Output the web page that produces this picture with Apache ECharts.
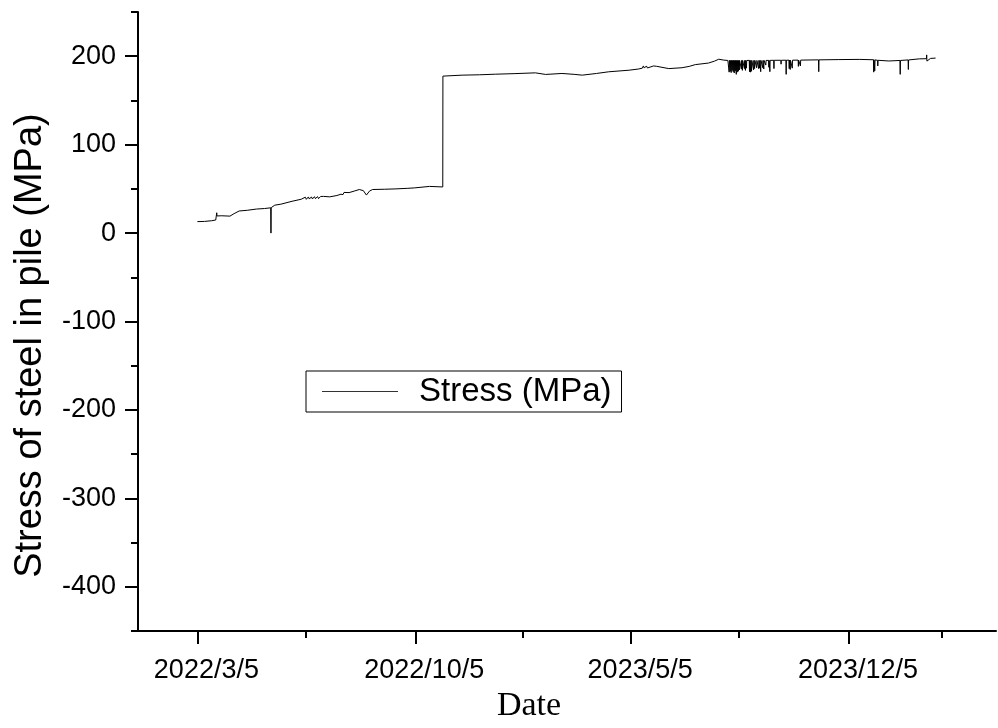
<!DOCTYPE html>
<html>
<head>
<meta charset="utf-8">
<script src="https://cdn.jsdelivr.net/npm/echarts@6.0.0/dist/echarts.min.js"></script>
<style>
  html, body { margin: 0; padding: 0; background: #fff; }
  #chart { width: 998px; height: 728px; }
</style>
</head>
<body>
<div id="chart"></div>
<script>
// Stress readings, before the jump (2022/3 - 2022/11)
const stage1 = [
  ['2022-03-05', 13.0], ['2022-03-12', 13.2], ['2022-03-19', 14.0], ['2022-03-23', 14.8],
  ['2022-03-24', 23.0], ['2022-03-24 06:00', 19.4], ['2022-03-29', 19.6], ['2022-04-06', 19.2],
  ['2022-04-10', 22.0], ['2022-04-15', 25.0], ['2022-04-23', 25.8], ['2022-05-02', 27.2],
  ['2022-05-10', 27.8], ['2022-05-16', 28.6], ['2022-05-16 06:00', 0.0], ['2022-05-16 12:00', 28.8],
  ['2022-05-20', 31.6], ['2022-05-26', 32.7], ['2022-06-06', 36.0], ['2022-06-15', 38.3],
  ['2022-06-19', 40.6], ['2022-06-20', 38.2], ['2022-06-22', 40.9], ['2022-06-23', 38.5],
  ['2022-06-25', 41.0], ['2022-06-26', 38.6], ['2022-06-28', 41.2], ['2022-06-29', 38.9],
  ['2022-07-01', 41.3], ['2022-07-02', 39.0], ['2022-07-04', 41.4], ['2022-07-05', 39.2],
  ['2022-07-07', 41.5], ['2022-07-08', 39.5], ['2022-07-13', 41.0], ['2022-07-20', 42.5],
  ['2022-07-24', 44.0], ['2022-07-25', 46.0], ['2022-07-26', 43.5], ['2022-07-27', 46.0],
  ['2022-07-28', 44.5], ['2022-08-01', 45.8], ['2022-08-06', 47.5], ['2022-08-11', 49.3],
  ['2022-08-15', 48.0], ['2022-08-18', 43.0], ['2022-08-21', 47.5], ['2022-08-24', 49.3],
  ['2022-09-05', 49.6], ['2022-09-16', 50.0], ['2022-09-27', 50.6], ['2022-10-04', 51.1],
  ['2022-10-05', 53.0], ['2022-10-19', 52.8], ['2022-11-01', 52.2]
];

// After the jump, slow rise (2022/11 - 2023/8)
const stage2 = [
  ['2022-11-01 03:00', 177.5], ['2022-11-20', 178.6], ['2022-12-07', 179.0], ['2022-12-23', 179.7],
  ['2023-01-10', 180.3], ['2023-01-31', 181.2], ['2023-02-10', 179.4], ['2023-02-26', 180.5],
  ['2023-03-10', 179.5], ['2023-03-18', 178.6], ['2023-04-01', 180.5], ['2023-04-13', 182.4],
  ['2023-05-03', 184.2], ['2023-05-12', 185.5], ['2023-05-16', 186.5], ['2023-05-17', 189.0],
  ['2023-05-18', 186.6], ['2023-05-20', 189.0], ['2023-05-21', 186.7], ['2023-05-27', 189.0],
  ['2023-05-28', 186.8], ['2023-05-30', 188.6], ['2023-05-31', 186.6], ['2023-06-11', 186.0],
  ['2023-06-24', 187.0], ['2023-07-01', 188.5], ['2023-07-07', 190.5], ['2023-07-20', 192.3],
  ['2023-07-26', 194.5], ['2023-07-30', 196.6], ['2023-08-04', 195.6]
];

// Plateau with dropouts (2023/8 - 2024/2): base, dip, base
const stage3 = [
  ['2023-08-08', 195.2],
  ['2023-08-09', 195.3], ['2023-08-09 06:00', 182.0], ['2023-08-09 12:00', 195.3],
  ['2023-08-10', 195.2], ['2023-08-10 06:00', 183.0], ['2023-08-10 12:00', 195.2],
  ['2023-08-11', 195.3], ['2023-08-11 06:00', 181.5], ['2023-08-11 12:00', 195.3],
  ['2023-08-12', 195.2], ['2023-08-12 06:00', 184.0], ['2023-08-12 12:00', 195.2],
  ['2023-08-13', 195.3], ['2023-08-13 06:00', 182.5], ['2023-08-13 12:00', 195.3],
  ['2023-08-14', 195.2], ['2023-08-14 06:00', 181.0], ['2023-08-14 12:00', 195.2],
  ['2023-08-15', 195.3], ['2023-08-15 06:00', 183.5], ['2023-08-15 12:00', 195.3],
  ['2023-08-16', 195.2], ['2023-08-16 06:00', 179.5], ['2023-08-16 12:00', 195.2],
  ['2023-08-17', 195.3], ['2023-08-17 06:00', 182.0], ['2023-08-17 12:00', 195.3],
  ['2023-08-18', 195.2], ['2023-08-18 06:00', 183.0], ['2023-08-18 12:00', 195.2],
  ['2023-08-19', 195.3], ['2023-08-19 06:00', 184.5], ['2023-08-19 12:00', 195.3],
  ['2023-08-21', 195.2], ['2023-08-21 06:00', 185.5], ['2023-08-21 12:00', 195.2],
  ['2023-08-22', 195.3], ['2023-08-22 06:00', 184.0], ['2023-08-22 12:00', 195.3],
  ['2023-08-24', 195.2], ['2023-08-24 06:00', 186.0], ['2023-08-24 12:00', 195.2],
  ['2023-08-25', 195.3], ['2023-08-25 06:00', 184.0], ['2023-08-25 12:00', 195.3],
  ['2023-08-26', 195.2], ['2023-08-26 06:00', 186.5], ['2023-08-26 12:00', 195.2],
  ['2023-08-29', 195.3], ['2023-08-29 06:00', 182.5], ['2023-08-29 12:00', 195.3],
  ['2023-08-30', 195.2], ['2023-08-30 06:00', 182.0], ['2023-08-30 12:00', 195.2],
  ['2023-08-31', 195.3], ['2023-08-31 06:00', 183.0], ['2023-08-31 12:00', 195.3],
  ['2023-09-02', 195.2], ['2023-09-02 06:00', 184.5], ['2023-09-02 12:00', 195.2],
  ['2023-09-03', 195.3], ['2023-09-03 06:00', 186.0], ['2023-09-03 12:00', 195.3],
  ['2023-09-05', 195.2], ['2023-09-05 06:00', 187.0], ['2023-09-05 12:00', 195.2],
  ['2023-09-07', 195.3], ['2023-09-07 06:00', 186.0], ['2023-09-07 12:00', 195.3],
  ['2023-09-08', 195.2], ['2023-09-08 06:00', 186.5], ['2023-09-08 12:00', 195.2],
  ['2023-09-09', 195.3], ['2023-09-09 06:00', 182.5], ['2023-09-09 12:00', 195.3],
  ['2023-09-11', 195.2], ['2023-09-11 06:00', 187.0], ['2023-09-11 12:00', 195.2],
  ['2023-09-12', 195.3], ['2023-09-12 06:00', 185.5], ['2023-09-12 12:00', 195.3],
  ['2023-09-14', 195.2], ['2023-09-14 06:00', 190.0], ['2023-09-14 12:00', 195.2],
  ['2023-09-17', 195.3], ['2023-09-17 06:00', 187.5], ['2023-09-17 12:00', 195.3],
  ['2023-09-18', 195.3], ['2023-09-18 06:00', 182.5], ['2023-09-18 12:00', 195.3],
  ['2023-09-22', 195.4], ['2023-09-22 06:00', 186.0], ['2023-09-22 12:00', 195.4],
  ['2023-09-29', 195.4], ['2023-09-29 06:00', 191.0], ['2023-09-29 12:00', 195.4],
  ['2023-10-04', 195.5], ['2023-10-04 06:00', 179.5], ['2023-10-04 12:00', 195.5],
  ['2023-10-07', 195.5], ['2023-10-07 06:00', 186.0], ['2023-10-07 12:00', 195.5],
  ['2023-10-08', 195.5], ['2023-10-08 06:00', 185.0], ['2023-10-08 12:00', 195.5],
  ['2023-10-10', 195.5], ['2023-10-10 06:00', 186.5], ['2023-10-10 12:00', 195.5],
  ['2023-10-16', 195.6], ['2023-10-16 06:00', 188.5], ['2023-10-16 12:00', 195.6],
  ['2023-10-18', 195.6], ['2023-10-18 06:00', 189.0], ['2023-10-18 12:00', 195.6],
  ['2023-11-05', 195.9], ['2023-11-05 06:00', 182.5], ['2023-11-05 12:00', 195.9],
  ['2023-11-25', 196.2], ['2023-12-15', 196.4],
  ['2023-12-29', 196.0], ['2023-12-29 06:00', 182.0], ['2023-12-29 12:00', 196.0],
  ['2023-12-30', 195.8], ['2023-12-30 06:00', 183.5], ['2023-12-30 12:00', 195.8],
  ['2024-01-02', 195.4], ['2024-01-02 06:00', 189.0], ['2024-01-02 12:00', 195.4],
  ['2024-01-13', 194.6],
  ['2024-01-24', 195.2], ['2024-01-24 06:00', 179.5], ['2024-01-24 12:00', 195.2],
  ['2024-02-01', 195.8], ['2024-02-01 06:00', 185.0], ['2024-02-01 12:00', 195.8],
  ['2024-02-12', 197.0], ['2024-02-19', 197.2], ['2024-02-19 06:00', 201.5], ['2024-02-19 12:00', 194.5],
  ['2024-02-23', 197.5], ['2024-02-28', 197.9]
];

// Axis ticks
const majorDates = ['2022-03-05', '2022-10-05', '2023-05-05', '2023-12-05'];
const dateLabels = ['2022/3/5', '2022/10/5', '2023/5/5', '2023/12/5'];
const minorDates = ['2022-06-19', '2023-01-19', '2023-08-19', '2024-03-05'];
const yMajor = [-400, -300, -200, -100, 0, 100, 200];
const yMinor = [-450, -350, -250, -150, -50, 50, 150, 250];

// x is counted in days from the first reading
const origin = echarts.number.parseDate('2022-03-05').getTime();
const toDay = s => (echarts.number.parseDate(s).getTime() - origin) / 86400000;
const majorDays = majorDates.map(toDay);
const minorDays = minorDates.map(toDay);
const seriesData = stage1.concat(stage2, stage3).map(p => [toDay(p[0]), p[1]]);

const xMin = toDay('2022-01-05 16:00');
const xMax = toDay('2024-04-27 08:00');

const sans = 'Liberation Sans, Arial, sans-serif';
const axisLine = { show: true, onZero: false, lineStyle: { color: '#000', width: 2 } };

let chart = echarts.init(document.getElementById('chart'));

let option = {
    animation: false,
    backgroundColor: '#fff',
    grid: { left: 138, top: 12, right: 2, bottom: 84 },
    legend: {
        left: 306,
        top: 371,
        padding: [4, 10, 4, 16],
        borderColor: '#000',
        borderWidth: 1,
        icon: 'rect',
        itemWidth: 76,
        itemHeight: 1,
        itemStyle: { color: '#333' },
        textStyle: { fontFamily: sans, fontSize: 33, color: '#000', padding: [0, 0, 0, 16] },
        data: ['Stress (MPa)']
    },
    xAxis: [
        {
            type: 'value',
            min: xMin,
            max: xMax,
            axisLine: axisLine,
            splitLine: { show: false },
            axisTick: { show: true, customValues: majorDays, length: 13, lineStyle: { width: 2, color: '#000' } },
            axisLabel: {
                customValues: majorDays,
                formatter: value => {
                    let i = majorDays.findIndex(d => Math.abs(d - value) < 0.5);
                    return i >= 0 ? dateLabels[i] : '';
                },
                fontFamily: sans, fontSize: 27, color: '#000',
                margin: 26,
                padding: [0, 0, 0, 18]
            },
            name: 'Date',
            nameLocation: 'middle',
            nameGap: 51,
            nameTextStyle: {
                fontFamily: 'Liberation Serif, Times New Roman, serif',
                fontSize: 34, color: '#000',
                padding: [0, 76, 0, 0]
            }
        },
        {
            type: 'value',
            position: 'bottom',
            min: xMin,
            max: xMax,
            axisLine: { show: false, onZero: false },
            splitLine: { show: false },
            axisTick: { show: true, customValues: minorDays, length: 7, lineStyle: { width: 2, color: '#000' } },
            axisLabel: { show: false }
        }
    ],
    yAxis: [
        {
            type: 'value',
            position: 'left',
            min: -450,
            max: 250,
            axisLine: axisLine,
            splitLine: { show: false },
            axisTick: { show: true, customValues: yMajor, length: 13, lineStyle: { width: 2, color: '#000' } },
            axisLabel: { customValues: yMajor, fontFamily: sans, fontSize: 27, color: '#000', margin: 22 },
            name: 'Stress of steel in pile (MPa)',
            nameLocation: 'middle',
            nameGap: 88,
            nameTextStyle: { fontFamily: sans, fontSize: 38, color: '#000', padding: [0, 48, 0, 0] }
        },
        {
            type: 'value',
            position: 'left',
            offset: 0,
            min: -450,
            max: 250,
            axisLine: { show: false, onZero: false },
            splitLine: { show: false },
            axisTick: { show: true, customValues: yMinor, length: 7, lineStyle: { width: 2, color: '#000' } },
            axisLabel: { show: false }
        }
    ],
    series: [
        {
            name: 'Stress (MPa)',
            type: 'line',
            xAxisIndex: 0,
            yAxisIndex: 0,
            symbol: 'none',
            lineStyle: { color: '#000', width: 1 },
            itemStyle: { color: '#000' },
            data: seriesData
        }
    ]
};

chart.setOption(option);
</script>
</body>
</html>
